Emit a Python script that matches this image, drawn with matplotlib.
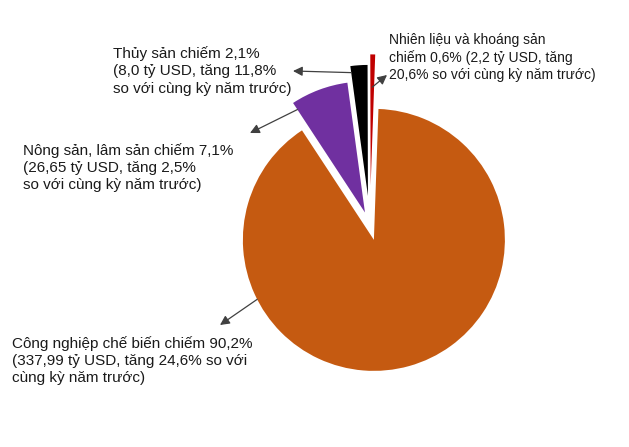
import matplotlib.pyplot as plt
import numpy as np

plt.rcParams['font.family'] = ['Liberation Sans', 'DejaVu Sans']

# slices, counter-clockwise from the top
names = ["Nhiên liệu và khoáng sản", "Thủy sản", "Nông sản, lâm sản", "Công nghiệp chế biến"]
shares = [0.6, 2.1, 7.1, 90.2]
colors = ["#C00000", "#000000", "#7030A0", "#C55A11"]
explode = [0.31, 0.23, 0.11, 0.11]

labels = [
    "Nhiên liệu và khoáng sản\nchiếm 0,6% (2,2 tỷ USD, tăng\n20,6% so với cùng kỳ năm trước)",
    "Thủy sản chiếm 2,1%\n(8,0 tỷ USD, tăng 11,8%\nso với cùng kỳ năm trước)",
    "Nông sản, lâm sản chiếm 7,1%\n(26,65 tỷ USD, tăng 2,5%\nso với cùng kỳ năm trước)",
    "Công nghiệp chế biến chiếm 90,2%\n(337,99 tỷ USD, tăng 24,6% so với\ncùng kỳ năm trước)",
]

W, H = 629, 447
R = 131.0          # pie radius in pixels
CX, CY = 370, 226  # pie centre in image pixels (top-left origin)


def px(x, y):
    # image pixel -> data coords
    return (x - CX) / R, (CY - y) / R


def on_wedge(w, ang, r):
    cx, cy = w.center
    a = np.deg2rad(ang)
    return cx + r * w.r * np.cos(a), cy + r * w.r * np.sin(a)


fig = plt.figure(figsize=(W / 100, H / 100), dpi=100)
ax = fig.add_axes([0, 0, 1, 1])
wedges, _ = ax.pie(shares, colors=colors, explode=explode, startangle=88,
                   counterclock=True, wedgeprops=dict(linewidth=0))
ax.set_xlim(-CX / R, (W - CX) / R)
ax.set_ylim((CY - H) / R, CY / R)
ax.set_aspect('equal')
ax.axis('off')

# arrow start on the wedge, arrow head near the label
arrows = [
    (on_wedge(wedges[0], (wedges[0].theta1 + wedges[0].theta2) / 2, 0.75), px(387, 75)),
    (on_wedge(wedges[1], wedges[1].theta2, 0.95), px(293, 71)),
    (on_wedge(wedges[2], wedges[2].theta2, 0.94), px(250, 133)),
    (on_wedge(wedges[3], 207, 1.0), px(220, 325)),
]
for tail, head in arrows:
    ax.annotate("", xy=head, xytext=tail,
                arrowprops=dict(arrowstyle="-|>", color="#404040", lw=0.9,
                                mutation_scale=14, shrinkA=0, shrinkB=0,
                                facecolor="black"))

text_pos = [(389, 57.5, 10, 1.25), (113, 71, 11, 1.3), (23, 167.5, 11, 1.3),
            (12, 360.5, 11, 1.3)]
for lab, (x, y, fs, ls) in zip(labels, text_pos):
    ax.text(*px(x, y), lab, ha="left", va="center", fontsize=fs,
            linespacing=ls, color="#1a1a1a")

fig.savefig("out.png", dpi=100)
